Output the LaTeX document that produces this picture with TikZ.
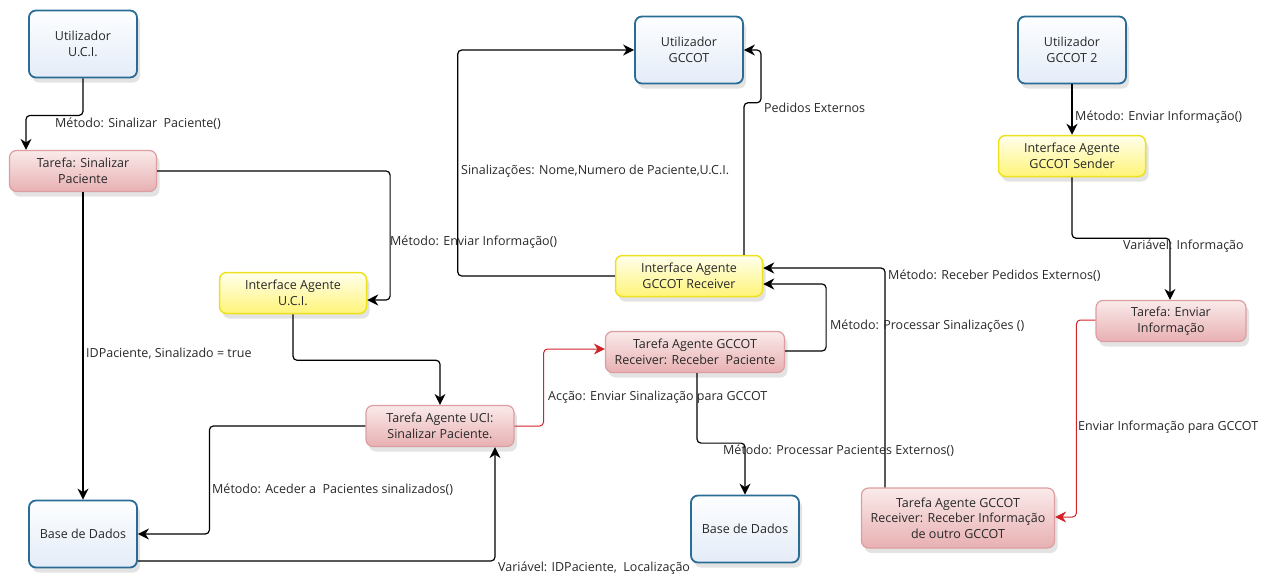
\documentclass[tikz,border=0pt]{standalone}
\usepackage{fontspec}
\setmainfont{Open Sans}
\usetikzlibrary{arrows.meta,shadows,calc}

\definecolor{userline}{RGB}{42,108,150}
\definecolor{usertop}{RGB}{253,254,255}
\definecolor{userbot}{RGB}{228,236,248}
\definecolor{taskline}{RGB}{220,158,160}
\definecolor{tasktop}{RGB}{250,234,234}
\definecolor{taskbot}{RGB}{232,176,178}
\definecolor{ifline}{RGB}{238,226,30}
\definecolor{iftop}{RGB}{255,255,238}
\definecolor{ifbot}{RGB}{255,244,120}
\definecolor{txt}{RGB}{40,40,40}
\definecolor{redline}{RGB}{210,35,40}

\tikzset{
  box/.style={rounded corners=7pt, align=center, text=txt, font=\fontsize{12.5}{15.5}\selectfont,
    drop shadow={opacity=0.22, shadow xshift=3pt, shadow yshift=-5pt}},
  userbox/.style={box, draw=userline, line width=1.8pt, top color=usertop, bottom color=userbot,
    minimum width=108pt, minimum height=67pt},
  taskbox/.style={box, draw=taskline, line width=1.2pt, top color=tasktop, bottom color=taskbot,
    minimum height=41pt},
  ifbox/.style={box, draw=ifline, line width=1.5pt, top color=iftop, bottom color=ifbot,
    minimum height=41pt},
  conn/.style={draw=black, line width=1.2pt, rounded corners=4pt,
    -{Stealth[length=11pt,width=11pt,inset=3.5pt]}},
  redconn/.style={draw=redline, line width=1pt, rounded corners=4pt,
    -{Stealth[length=11pt,width=11pt,inset=3.5pt]}},
  lbl/.style={anchor=west, inner sep=0pt, text=txt, font=\fontsize{12.5}{15}\selectfont}
}

\begin{document}
\begin{tikzpicture}[x=1pt,y=-1pt]
\useasboundingbox (0,0) rectangle (1279,576);

% ---- boxes ----
\node[userbox] (uuci) at (83,44) {Utilizador\\U.C.I.};
\node[taskbox, minimum width=147pt] (tsp) at (83,171) {Tarefa: Sinalizar\\Paciente};
\node[ifbox, minimum width=147pt] (iau) at (293,293) {Interface Agente\\U.C.I.};
\node[taskbox, minimum width=148pt] (tauci) at (440,426) {Tarefa Agente UCI:\\Sinalizar Paciente.};
\node[userbox] (bd1) at (83,534) {Base de Dados};

\node[userbox] (ugc) at (689,50) {Utilizador\\GCCOT};
\node[ifbox, minimum width=147pt] (iagr) at (689,276) {Interface Agente\\GCCOT Receiver};
\node[taskbox, minimum width=179pt] (tagr) at (695,352) {Tarefa Agente GCCOT\\Receiver: Receber\ \ Paciente};
\node[userbox] (bd2) at (745,529) {Base de Dados};

\node[userbox] (ug2) at (1072,50) {Utilizador\\GCCOT 2};
\node[ifbox, minimum width=147pt] (iags) at (1072,156) {Interface Agente\\GCCOT Sender};
\node[taskbox, minimum width=150pt] (tei) at (1171,321) {Tarefa: Enviar\\Informação};
\node[taskbox, minimum width=193pt, minimum height=60pt] (tagri) at (958,518)
  {Tarefa Agente GCCOT\\Receiver: Receber Informação\\de outro GCCOT};

% ---- connectors ----
\draw[conn] (uuci.south) -- ++(0,37) -| ([xshift=-57pt]tsp.north);
\draw[conn] (tsp.east) -- ++(233,0) |- ([yshift=-7pt]iau.east);
\draw[conn] (tsp.south) -- (bd1.north);
\draw[conn] (iau.south) -- ++(0,46) -| (tauci.north);
\draw[conn] (tauci.west) -- ++(-156,0) |- (bd1.east);
\draw[conn] ([yshift=-27pt]bd1.east) -| ([xshift=55pt]tauci.south);
\draw[redconn] (tauci.east) -- ++(29,0) |- ([yshift=3pt]tagr.west);
\draw[conn] ([xshift=2pt]tagr.south) -- ++(0,70) -| (bd2.north);
\draw[conn] ([yshift=1pt]tagr.east) -- ++(41,0) |- ([yshift=-8pt]iagr.east);
\draw[conn] (iagr.west) -- ++(-157,0) |- (ugc.west);
\draw[conn] ([xshift=55pt]iagr.north) -- ++(0,-152) -- ++(17,0) |- (ugc.east);
\draw[conn] ([xshift=-73pt]tagri.north) |- ([yshift=8pt]iagr.east);
\draw[conn] (ug2.south) -- (iags.north);
\draw[conn] (iags.south) -- ++(0,61) -| ([xshift=-1pt]tei.north);
\draw[redconn] ([yshift=1pt]tei.west) -- ++(-19,0) |- ([yshift=1pt]tagri.east);

% ---- labels ----
\node[lbl] (l1) at (55,124) {Método: Sinalizar\ \ Paciente()};
\node[lbl] (l2) at (390,242) {Método: Enviar Informação()};
\node[lbl] (l3) at (86,354) {IDPaciente, Sinalizado = true};
\node[lbl] (l4) at (212,490) {Método: Aceder a\ \ Pacientes sinalizados()};
\node[lbl] (l5) at (498,568) {Variável: IDPaciente,\ \ Localização};
\node[lbl] (l6) at (548,397) {Acção: Enviar Sinalização para GCCOT};
\node[lbl] (l7) at (723,451) {Método: Processar Pacientes Externos()};
\node[lbl] (l8) at (830,326) {Método: Processar Sinalizações ()};
\node[lbl] (l9) at (461,171) {Sinalizações: Nome,Numero de Paciente,U.C.I.};
\node[lbl] (l10) at (764,108) {Pedidos Externos};
\node[lbl] (l11) at (888,276) {Método: Receber Pedidos Externos()};
\node[lbl] (l12) at (1123,246) {Variável: Informação};
\node[lbl] (l13) at (1075,117) {Método: Enviar Informação()};
\node[lbl] (l14) at (1078,427) {Enviar Informação para GCCOT};
\end{tikzpicture}
\end{document}
